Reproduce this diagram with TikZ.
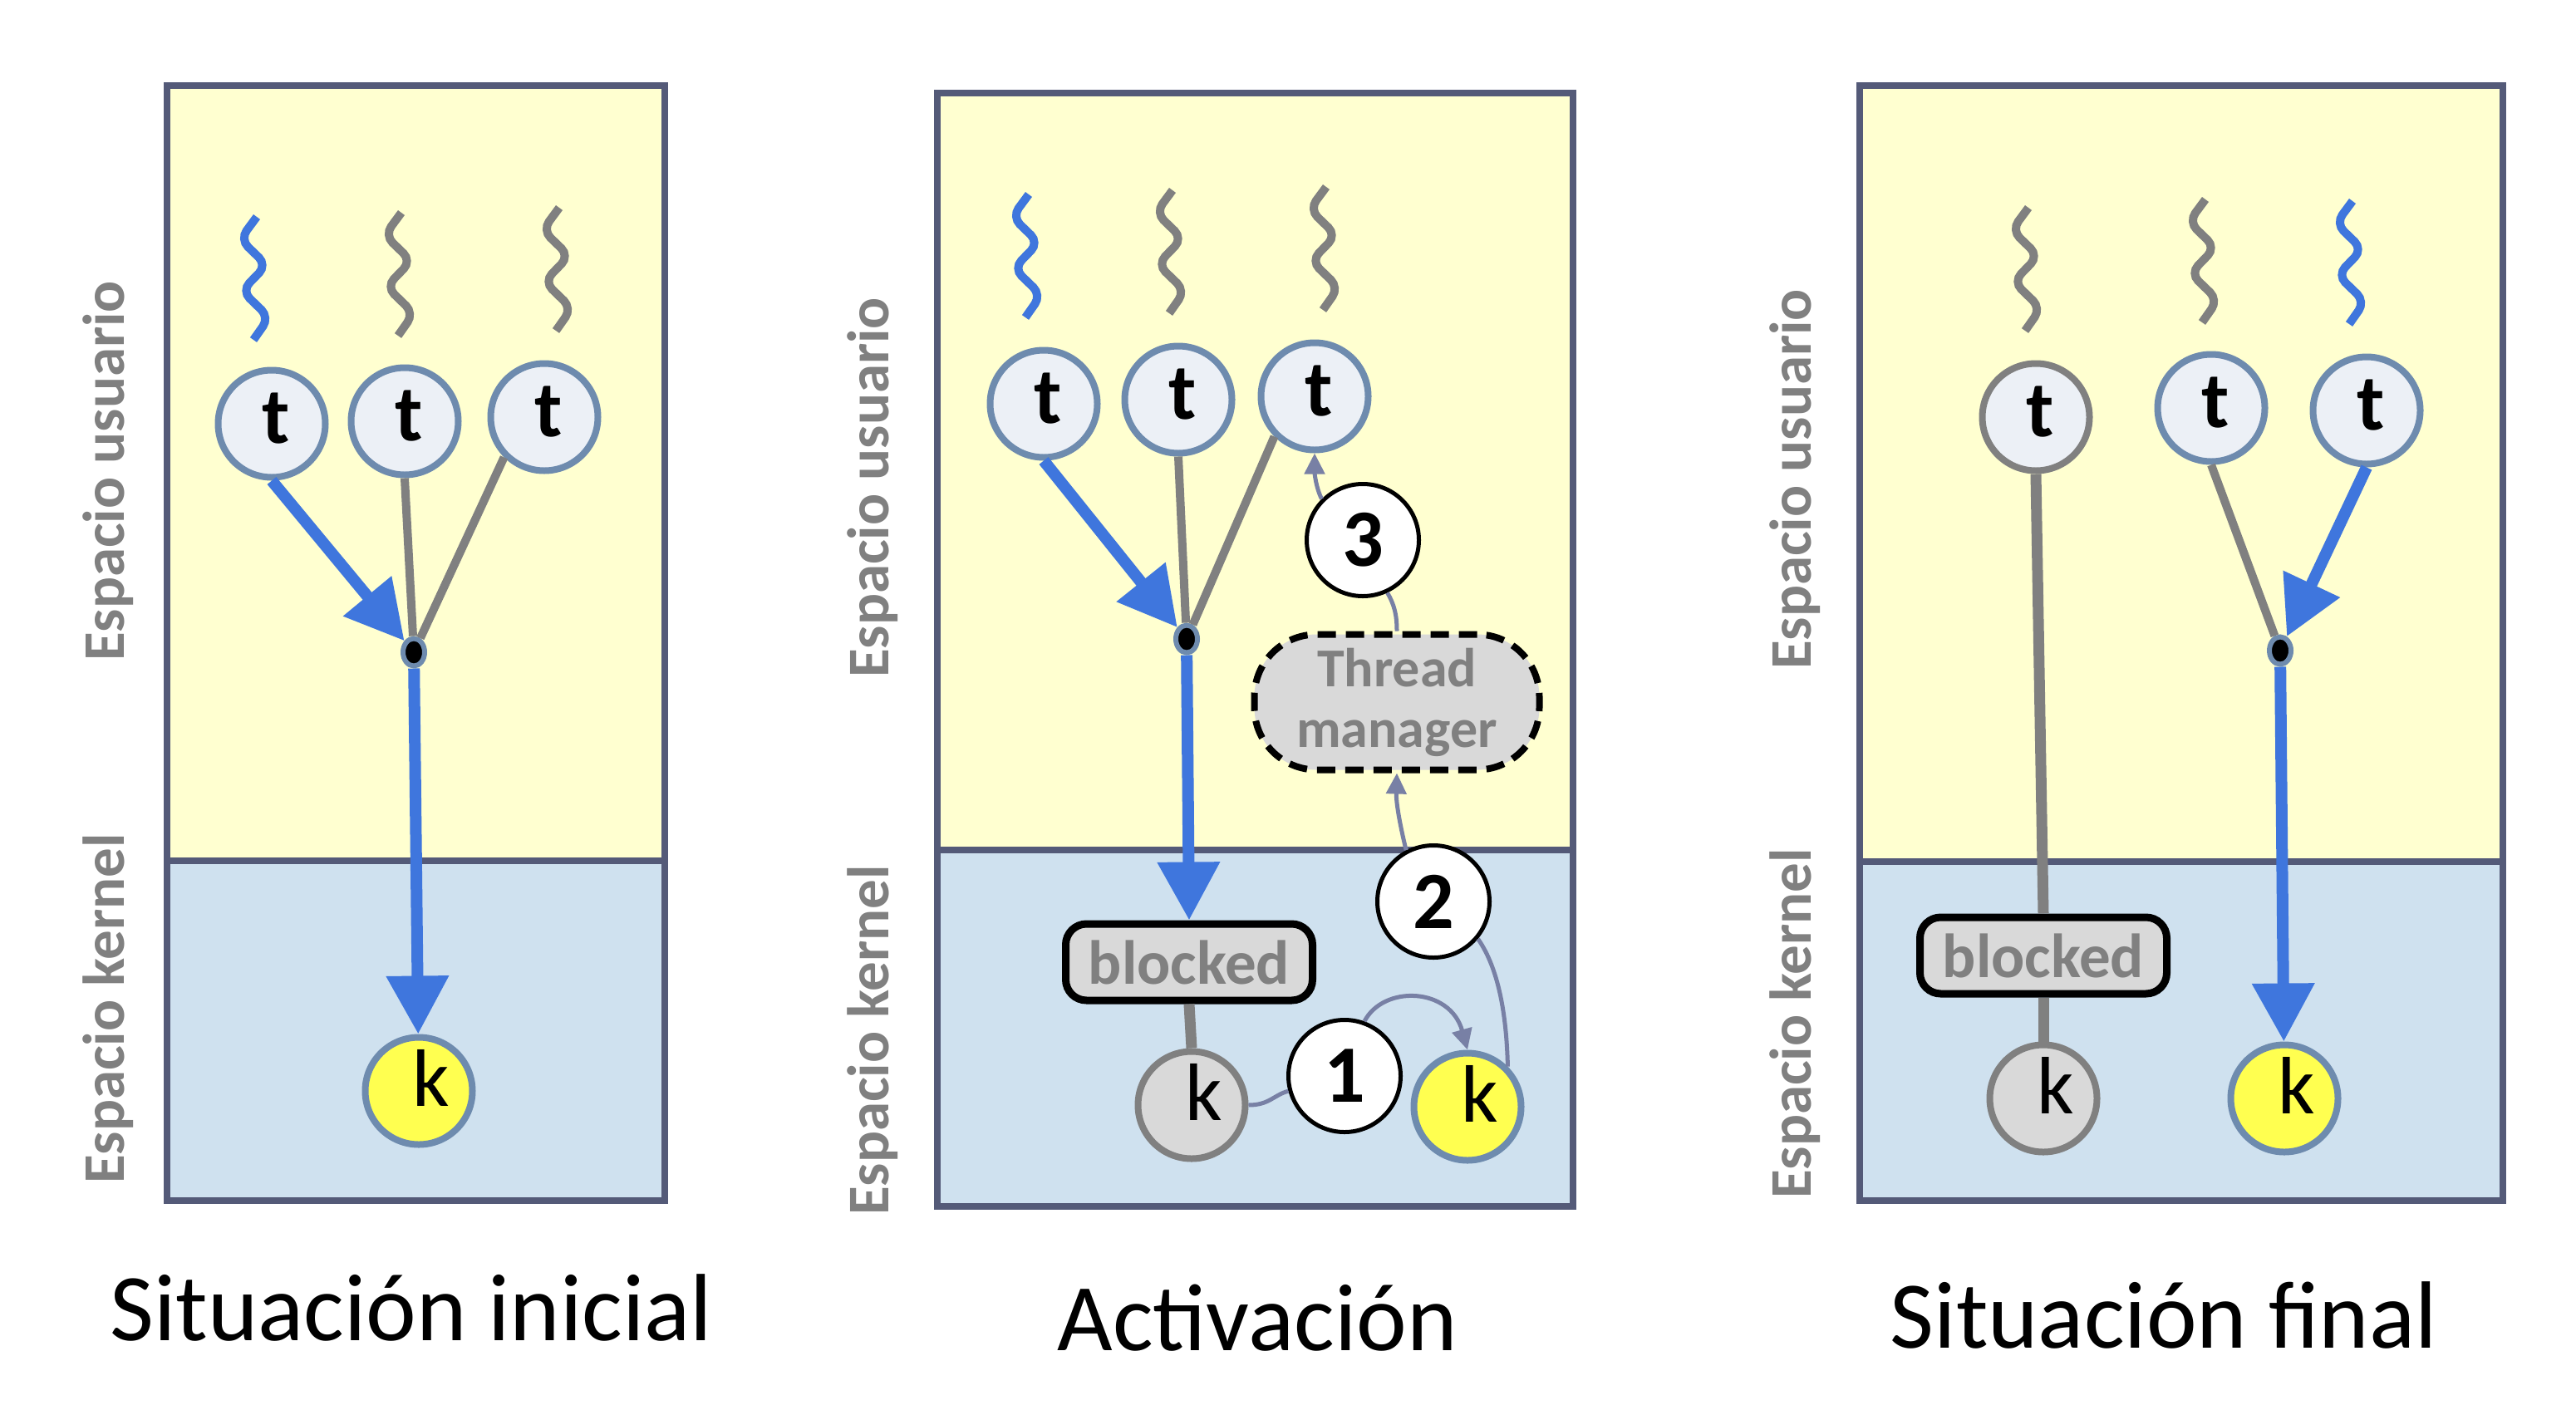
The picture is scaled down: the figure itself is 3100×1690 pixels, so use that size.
\documentclass[tikz,border=0pt]{standalone}
\usepackage{fontspec}
\setmainfont{Carlito}
\usetikzlibrary{arrows.meta,shapes.geometric}
\definecolor{ybg}{HTML}{FFFFD0}
\definecolor{bbg}{HTML}{CFE1EF}
\definecolor{pborder}{HTML}{545A78}
\definecolor{tfill}{HTML}{ECF0F6}
\definecolor{tbord}{HTML}{6E8BAE}
\definecolor{tblue}{HTML}{3F76DD}
\definecolor{tgray}{HTML}{808080}
\definecolor{kyel}{HTML}{FFFF50}
\definecolor{lgray}{HTML}{D9D9D9}
\definecolor{thinc}{HTML}{7880A5}
\newcommand\tlet{\raisebox{14pt}{\hspace*{10pt}t}}
\newcommand\klet{\raisebox{32pt}{\hspace*{30pt}k}}
\newcommand\squiggle[3]{\draw[squig,draw=#1,shift={(#2,#3)}] (3,0) -- (-17,27) -- (15,58) -- (-15,89) -- (18,121) -- (-1,148);}
\begin{document}
\begin{tikzpicture}[x=1pt,y=-1pt,
  pborderst/.style={draw=pborder,line width=8pt},
  tnode/.style={circle,draw=tbord,fill=tfill,line width=8pt,minimum size=129pt,inner sep=0pt,font=\fontsize{96}{96}\selectfont\bfseries},
  kynode/.style={circle,draw=tbord,fill=kyel,line width=8pt,minimum size=129pt,inner sep=0pt,font=\fontsize{98}{98}\selectfont},
  kgnode/.style={kynode,draw=tgray,fill=lgray},
  numnode/.style={circle,draw=black,fill=white,line width=5pt,minimum size=135pt,inner sep=0pt,font=\fontsize{98}{98}\selectfont\bfseries},
  junc/.style={ellipse,draw=tbord,fill=black,line width=6pt,minimum width=26pt,minimum height=33pt,inner sep=0pt},
  blockedbox/.style={rectangle,rounded corners=25pt,draw=black,fill=lgray,line width=9pt,minimum width=297pt,minimum height=92pt,inner sep=0pt,text=tgray,font=\fontsize{75}{75}\selectfont\bfseries},
  tmbox/.style={rectangle,rounded corners=75pt,draw=black,dash pattern=on 22pt off 12pt,fill=lgray,line width=8pt,minimum width=343pt,minimum height=163pt,inner sep=0pt,align=center,text=tgray,font=\fontsize{66}{73}\selectfont\bfseries},
  sidelabel/.style={rotate=90,text=tgray,font=\fontsize{71}{71}\selectfont\bfseries},
  titlest/.style={anchor=base,font=\fontsize{115}{115}\selectfont},
  bluearrow/.style={draw=tblue,line width=14pt,-{Triangle[length=70pt,width=72pt]}},
  grayline/.style={draw=tgray,line width=10pt},
  thickgray/.style={draw=tgray,line width=13pt},
  thinline/.style={draw=thinc,line width=5pt},
  thinarrow/.style={thinline,-{Triangle[length=25pt,width=24pt]}},
  squig/.style={line width=10pt,rounded corners=13pt}
]
\useasboundingbox (0,0) rectangle (3100,1690);

% ---------- LEFT ----------
\fill[ybg] (201,103) rectangle (800,1036);
\fill[bbg] (201,1036) rectangle (800,1445);
\draw[pborderst] (201,103) rectangle (800,1445) (201,1036) -- (800,1036);
\node[sidelabel] (L-lu) at (130,567) {Espacio usuario};
\node[sidelabel] (L-lk) at (130,1214) {Espacio kernel};
\squiggle{tblue}{306}{261}
\squiggle{tgray}{480}{256}
\squiggle{tgray}{670}{250}
\node[tnode] (L-t1) at (327,510) {\tlet};
\node[tnode] (L-t2) at (487,507) {\tlet};
\node[tnode] (L-t3) at (655,502) {\tlet};
\node[junc] (L-j) at (498,785) {};
\node[kynode] (L-k) at (504,1313) {\klet};
\draw[bluearrow] (L-t1.south) -- (L-j);
\draw[grayline] (L-t2.south) -- (L-j);
\draw[grayline] (L-t3.225) -- (L-j);
\draw[bluearrow] (L-j) -- (L-k);

% ---------- MIDDLE ----------
\fill[ybg] (1128,112) rectangle (1893,1023);
\fill[bbg] (1128,1023) rectangle (1893,1452);
\draw[pborderst] (1128,112) rectangle (1893,1452) (1128,1023) -- (1893,1023);
\node[sidelabel] (M-lu) at (1050,587) {Espacio usuario};
\node[sidelabel] (M-lk) at (1050,1252) {Espacio kernel};
\squiggle{tblue}{1235}{234}
\squiggle{tgray}{1408}{229}
\squiggle{tgray}{1593}{225}
\node[tnode] (M-t1) at (1256,486) {\tlet};
\node[tnode] (M-t2) at (1418,481) {\tlet};
\node[tnode] (M-t3) at (1582,477) {\tlet};
\node[junc] (M-j) at (1428,769) {};
\node[blockedbox] (M-bl) at (1431,1158) {blocked};
\node[kgnode] (M-kg) at (1434,1330) {\klet};
\node[numnode] (M-n1) at (1618,1295) {1};
\node[kynode] (M-kY) at (1766,1332) {\klet};
\node[numnode] (M-n2) at (1725,1085) {2};
\node[tmbox] (M-tm) at (1681,845) {Thread\\manager};
\node[numnode] (M-n3) at (1640,650) {3};
\draw[bluearrow] (M-t1.south) -- (M-j);
\draw[grayline] (M-t2.south) -- (M-j);
\draw[grayline] (M-t3.225) -- (M-j);
\draw[bluearrow] (M-j) -- (M-bl.north);
\draw[thickgray] (M-bl.south) -- (M-kg.north);
\draw[thinline] (M-kg.east) .. controls +(25,0) and +(-18,5) .. (M-n1.195);
\draw[thinarrow] (M-n1.70) .. controls (1665,1185) and (1745,1188) .. (M-kY.north);
\draw[thinline] (M-kY.45) .. controls (1813,1220) and (1803,1165) .. (M-n2.-40);
\draw[thinarrow] (M-n2.118) .. controls (1684,990) and (1680,965) .. (M-tm.south);
\draw[thinline] (M-tm.north) .. controls (1681,740) and (1678,728) .. (M-n3.-65);
\draw[thinarrow] (M-n3.135) .. controls (1584,588) and (1582,570) .. (M-t3.south);

% ---------- RIGHT ----------
\fill[ybg] (2238,103) rectangle (3012,1037);
\fill[bbg] (2238,1037) rectangle (3012,1445);
\draw[pborderst] (2238,103) rectangle (3012,1445) (2238,1037) -- (3012,1037);
\node[sidelabel] (R-lu) at (2160,577) {Espacio usuario};
\node[sidelabel] (R-lk) at (2160,1232) {Espacio kernel};
\squiggle{tgray}{2438}{250}
\squiggle{tgray}{2651}{240}
\squiggle{tblue}{2828}{242}
\node[tnode,draw=tgray] (R-t1) at (2450,502) {\tlet};
\node[tnode] (R-t2) at (2661,491) {\tlet};
\node[tnode] (R-t3) at (2848,494) {\tlet};
\node[junc] (R-j) at (2744,783) {};
\node[blockedbox] (R-bl) at (2459,1150) {blocked};
\node[kgnode] (R-kg) at (2459,1322) {\klet};
\node[kynode] (R-kY) at (2749,1322) {\klet};
\draw[thickgray] (R-t1.south) -- (R-bl.north);
\draw[thickgray] (R-bl.south) -- (R-kg.north);
\draw[grayline] (R-t2.south) -- (R-j);
\draw[bluearrow] (R-t3.south) -- (R-j);
\draw[bluearrow] (R-j) -- (R-kY);

% ---------- TITLES ----------
\node[titlest] (T1) at (495,1613) {Situación inicial};
\node[titlest] (T2) at (1513,1625) {Activación};
\node[titlest] (T3) at (2604,1622) {Situación final};
\end{tikzpicture}
\end{document}
